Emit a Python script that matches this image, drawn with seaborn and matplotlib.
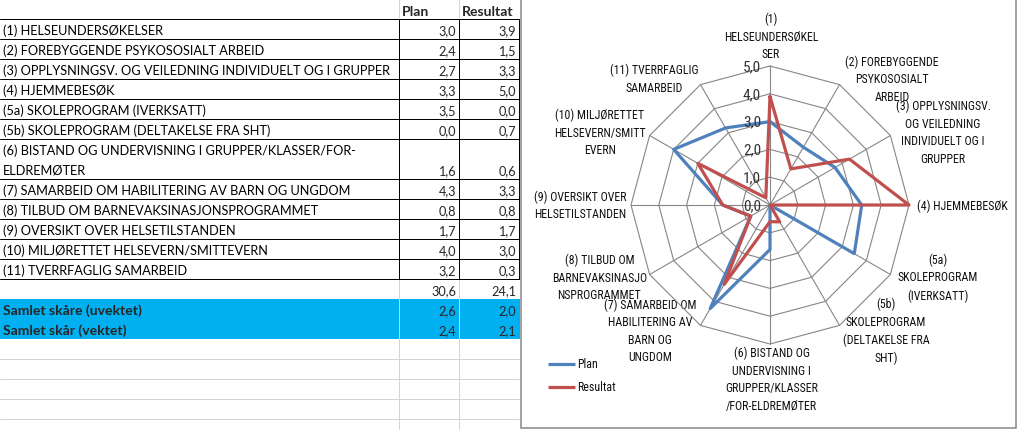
import numpy as np
import pandas as pd
import matplotlib
matplotlib.use("Agg")
import matplotlib.pyplot as plt
import matplotlib.transforms as mtransforms
from matplotlib.patches import Rectangle
from matplotlib import font_manager as fm
import seaborn as sns

# ---------------- data ----------------
categories = [
    "(1) HELSEUNDERSØKELSER",
    "(2) FOREBYGGENDE PSYKOSOSIALT ARBEID",
    "(3) OPPLYSNINGSV. OG VEILEDNING INDIVIDUELT OG I GRUPPER",
    "(4) HJEMMEBESØK",
    "(5a) SKOLEPROGRAM (IVERKSATT)",
    "(5b) SKOLEPROGRAM (DELTAKELSE FRA SHT)",
    "(6) BISTAND OG UNDERVISNING I GRUPPER/KLASSER/FOR-\nELDREMØTER",
    "(7) SAMARBEID OM HABILITERING AV BARN OG UNGDOM",
    "(8) TILBUD OM BARNEVAKSINASJONSPROGRAMMET",
    "(9) OVERSIKT OVER HELSETILSTANDEN",
    "(10) MILJØRETTET HELSEVERN/SMITTEVERN",
    "(11) TVERRFAGLIG SAMARBEID",
]
chart_labels = [
    "(1)\nHELSEUNDERSØKEL\nSER",
    "(2) FOREBYGGENDE\nPSYKOSOSIALT\nARBEID",
    "(3) OPPLYSNINGSV.\nOG VEILEDNING\nINDIVIDUELT OG I\nGRUPPER",
    "(4) HJEMMEBESØK",
    "(5a)\nSKOLEPROGRAM\n(IVERKSATT)",
    "(5b)\nSKOLEPROGRAM\n(DELTAKELSE FRA\nSHT)",
    "(6) BISTAND OG\nUNDERVISNING I\nGRUPPER/KLASSER\n/FOR-ELDREMØTER",
    "(7) SAMARBEID OM\nHABILITERING AV\nBARN OG\nUNGDOM",
    "(8) TILBUD OM\nBARNEVAKSINASJO\nNSPROGRAMMET",
    "(9) OVERSIKT OVER\nHELSETILSTANDEN",
    "(10) MILJØRETTET\nHELSEVERN/SMITT\nEVERN",
    "(11) TVERRFAGLIG\nSAMARBEID",
]
series_names = ["Plan", "Resultat"]
plan = [3.0, 2.4, 2.7, 3.3, 3.5, 0.0, 1.6, 4.3, 0.8, 1.7, 4.0, 3.2]
resultat = [3.9, 1.5, 3.3, 5.0, 0.0, 0.7, 0.6, 3.3, 0.8, 1.7, 3.0, 0.3]
totals = [30.6, 24.1]
summary_labels = ["Samlet skåre (uvektet)", "Samlet skår (vektet)"]
summary_plan = [2.6, 2.4]
summary_res = [2.0, 2.1]
r_levels = [0, 1, 2, 3, 4, 5]

# ---------------- style ----------------
BLUE = "#4F81BD"
RED = "#C0504D"
GRID = "#868686"
CELL_GRID = "#D4D4D4"
HILITE = "#00B0F0"
TXT = "#111111"

sns.set_theme(style="white")


def has_regular(name):
    for f in fm.fontManager.ttflist:
        if f.name == name and f.style == "normal" and f.weight in (400, "normal", "regular", "book"):
            return True
    return False


def pick(cands):
    for c in cands:
        if has_regular(c):
            return c
    return "DejaVu Sans"


TABLE_FONT = pick(["Lato", "Open Sans", "Liberation Sans"])
CHART_FONT = pick(["Roboto Condensed", "Noto Sans Condensed", "Liberation Sans Narrow",
                   "DejaVu Sans Condensed", "Lato"])
plt.rcParams["font.family"] = [TABLE_FONT, "DejaVu Sans"]
TF = [TABLE_FONT, "DejaVu Sans"]
CF = [CHART_FONT, "DejaVu Sans"]

W, H = 1017, 431
fig = plt.figure(figsize=(W / 100, H / 100), dpi=100)
fig.patch.set_facecolor("white")
renderer = fig.canvas.get_renderer()


def fit_size(s, target_px, family, weight="normal"):
    t = fig.text(0, 0, s, fontsize=10, weight=weight, family=family)
    w = t.get_window_extent(renderer=renderer).width
    t.remove()
    return 10 * target_px / w


def line_step(size, step_px, family):
    prop = fm.FontProperties(family=family, size=size)
    _, h, d = renderer.get_text_width_height_descent("lp", prop, ismath=False)
    return step_px / (h - d)


FS_TABLE = fit_size(categories[2], 387, TF)
FS_BOLD = fit_size(summary_labels[0], 139, TF, "bold")
FS_CHART = fit_size("HELSEUNDERSØKEL", 95, CF)
FS_TICK = fit_size("5,0", 18, CF)
LS_CHART = line_step(FS_CHART, 14.5, CF)


def fmt(v):
    return f"{v:.1f}".replace(".", ",")


# ---------------- background / table axes (pixel coordinates) ----------------
bg = fig.add_axes([0, 0, 1, 1])
bg.set_xlim(0, W)
bg.set_ylim(H, 0)
bg.axis("off")

colA, colB, colC = 399, 459, 519
px = 0.72  # one pixel in points

row_heights = [40 if "\n" in c else 20 for c in categories]
row_bounds = [20]
for h in row_heights:
    row_bounds.append(row_bounds[-1] + h)
tab_bottom = row_bounds[-1]

# light spreadsheet grid
for x in (colA, colB):
    bg.plot([x, x], [0, 20], color=CELL_GRID, lw=px)
    bg.plot([x, x], [tab_bottom, H], color=CELL_GRID, lw=px)
for y in range(tab_bottom + 80, H, 20):
    bg.plot([0, colC], [y, y], color=CELL_GRID, lw=px)

# highlighted summary rows
bg.add_patch(Rectangle((0, tab_bottom + 20), colC + 1, 40, color=HILITE, lw=0))

# table borders
for y in row_bounds:
    bg.plot([0, colC], [y, y], color="black", lw=px)
for x in (colA, colB, colC):
    bg.plot([x, x], [20, tab_bottom], color="black", lw=px)

# header
bg.text(colA + 3, 15.5, series_names[0], fontsize=FS_BOLD, weight="bold", va="baseline", family=TF)
bg.text(colB + 3, 15.5, series_names[1], fontsize=FS_BOLD, weight="bold", va="baseline", family=TF)

# category rows
for i, cat in enumerate(categories):
    bottom = row_bounds[i + 1]
    lines = cat.split("\n")
    for j, ln in enumerate(lines):
        yb = bottom - 5 - (len(lines) - 1 - j) * 20
        bg.text(3, yb, ln, fontsize=FS_TABLE, va="baseline", family=TF, color="black")
    bg.text(colB - 3, bottom - 5, fmt(plan[i]), fontsize=FS_TABLE, va="baseline", ha="right", family=TF)
    bg.text(colC - 3, bottom - 5, fmt(resultat[i]), fontsize=FS_TABLE, va="baseline", ha="right", family=TF)

# totals
bg.text(colB - 3, tab_bottom + 15, fmt(totals[0]), fontsize=FS_TABLE, va="baseline", ha="right", family=TF)
bg.text(colC - 3, tab_bottom + 15, fmt(totals[1]), fontsize=FS_TABLE, va="baseline", ha="right", family=TF)
for k, lab in enumerate(summary_labels):
    yb = tab_bottom + 35 + 20 * k
    bg.text(3, yb, lab, fontsize=FS_BOLD, weight="bold", va="baseline", family=TF)
    bg.text(colB - 3, yb, fmt(summary_plan[k]), fontsize=FS_TABLE, va="baseline", ha="right", family=TF)
    bg.text(colC - 3, yb, fmt(summary_res[k]), fontsize=FS_TABLE, va="baseline", ha="right", family=TF)

# chart area border
bg.add_patch(Rectangle((520.5, -3), 495, 432.5, fill=False, ec=GRID, lw=1.1))

# ---------------- radar chart ----------------
cx, cy, R = 770, 206, 139
pax = fig.add_axes([(cx - R) / W, (H - cy - R) / H, 2 * R / W, 2 * R / H], projection="polar")
pax.set_theta_zero_location("N")
pax.set_theta_direction(-1)

n = len(categories)
theta = np.linspace(0, 2 * np.pi, n, endpoint=False)
theta_closed = np.append(theta, 2 * np.pi)

records = []
for name, vals in zip(series_names, [plan, resultat]):
    vals_closed = list(vals) + [vals[0]]
    for t, v in zip(theta_closed, vals_closed):
        records.append({"series": name, "theta": t, "value": v})
df = pd.DataFrame(records)

top = max(r_levels)
for lv in r_levels[1:]:
    pax.plot(theta_closed, [lv] * (n + 1), color=GRID, lw=0.8, zorder=0)
for t in theta:
    pax.plot([t, t], [0, top], color=GRID, lw=0.8, zorder=0)

sns.lineplot(data=df, x="theta", y="value", hue="series", hue_order=series_names,
             palette=[BLUE, RED], sort=False, estimator=None, linewidth=2.3,
             legend=False, ax=pax)
for ln in pax.lines:
    ln.set_clip_on(False)

pax.set_ylim(0, top)
pax.set_xticks([])
pax.set_yticks([])
pax.grid(False)
pax.spines["polar"].set_visible(False)
pax.set_facecolor("none")
pax.set_xlabel("")
pax.set_ylabel("")

tick_tr = mtransforms.offset_copy(pax.transData, fig=fig, x=-9, y=0, units="dots")
for lv in r_levels:
    pax.text(0, lv, fmt(lv), transform=tick_tr, ha="right", va="center",
             fontsize=FS_TICK, color="#333333", clip_on=False, family=CF)

label_pos = [(771, 36), (892, 78.5), (943, 132), (962, 205), (937.5, 277), (886, 330.5),
             (771.5, 379), (650, 330.5), (599.5, 277), (580, 205), (600, 132), (654, 78.5)]
for lab, (x, y) in zip(chart_labels, label_pos):
    bg.text(x, y + 1.0, lab, ha="center", va="center", multialignment="center",
            fontsize=FS_CHART, linespacing=LS_CHART, color=TXT, family=CF)

# legend
for k, (name, col) in enumerate(zip(series_names, [BLUE, RED])):
    y = 365 + 23 * k
    bg.plot([548, 575], [y, y], color=col, lw=2.3, solid_capstyle="butt")
    bg.text(577, y, name, fontsize=FS_CHART, va="center", ha="left", color=TXT, family=CF)

fig.savefig("out.png", dpi=100, facecolor="white")
